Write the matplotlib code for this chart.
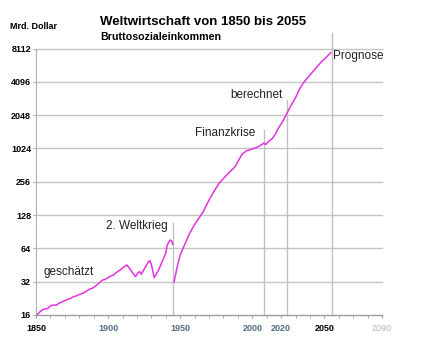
import numpy as np
import matplotlib
matplotlib.use('Agg')
from matplotlib import pyplot as plt
from matplotlib.ticker import NullLocator, MultipleLocator

plt.rcParams['font.family'] = ['Liberation Sans', 'DejaVu Sans']

# axis labels as printed in the original (uneven steps, equally spaced)
y_ticks = [16, 32, 64, 128, 256, 1024, 2048, 4096, 8112]
x_ticks = [1850, 1900, 1950, 2000, 2020, 2050, 2090]
x_tick_colors = ['black', '#4d6d8c', '#4d6d8c', '#4d6d8c', '#4d6d8c', 'black', '#b5b5b5']

# estimated part, up to the end of WW2
years_early = [1851, 1853, 1855, 1858, 1860, 1862, 1864, 1866, 1868, 1871, 1874, 1876,
               1878, 1881, 1883, 1885, 1887, 1889, 1891, 1893, 1896, 1898, 1901, 1904,
               1906, 1908, 1910, 1912, 1913, 1915, 1917, 1919, 1921, 1922, 1923, 1926,
               1928, 1929, 1930, 1932, 1935, 1938, 1940, 1941, 1943, 1944, 1945]
gdp_early = [16.2, 17.2, 18.0, 18.3, 19.3, 19.7, 19.6, 20.5, 21.0, 21.9, 22.6, 23.4,
             23.8, 24.8, 25.3, 26.3, 27.3, 27.9, 29.0, 30.5, 33.0, 33.6, 35.5, 37.0,
             39.0, 40.5, 42.5, 44.5, 45.3, 42.0, 38.5, 35.5, 38.9, 39.4, 37.3, 43.7,
             48.5, 49.5, 46.0, 34.8, 40.8, 50.2, 58.0, 68.6, 76.1, 75.0, 69.6]

# computed part and forecast
years_late = [1945.8, 1948, 1950, 1953, 1956, 1959, 1962, 1966, 1970, 1974, 1977, 1980,
              1984, 1988, 1991, 1993, 1996, 2000, 2003, 2006, 2008, 2009.5, 2011, 2014,
              2016, 2018, 2021, 2024, 2027, 2030, 2033, 2036, 2039, 2042, 2045, 2048,
              2051, 2054.5]
gdp_late = [32, 44, 55.7, 68.6, 84.4, 100, 115, 137, 175, 215, 248, 294,
            376, 478, 656, 812, 926, 1000, 1045, 1098, 1143, 1112, 1176, 1261,
            1375, 1552, 1783, 2120, 2521, 2941, 3566, 4096, 4540, 5040, 5580, 6180,
            6710, 7450]

marker_years = [1945, 2008, 2024, 2055]

y_log = np.log2(y_ticks)
y_pos = np.arange(len(y_ticks))


def forward(v):
    v = np.clip(np.asarray(v, dtype=float), 1e-6, None)
    return np.interp(np.log2(v), y_log, y_pos)


def inverse(p):
    return 2 ** np.interp(np.asarray(p, dtype=float), y_pos, y_log)


fig = plt.figure(figsize=(4.33, 3.51), dpi=100)
ax = fig.add_axes([36 / 433, 36 / 351, 346 / 433, 266.5 / 351])
ax.set_yscale('function', functions=(forward, inverse))
ax.set_ylim(16, 8112)
ax.set_xlim(1850, 2090)

ax.set_yticks(y_ticks)
ax.set_yticklabels([str(t) for t in y_ticks], fontsize=6.5, fontweight='bold')
ax.yaxis.set_minor_locator(NullLocator())
ax.tick_params(axis='y', length=2, color='#aaaaaa', pad=1.5)
ax.grid(axis='y', color='#c4c4c4', lw=1.0)
for gl in ax.get_ygridlines():
    gl.set_clip_on(False)

ax.set_xticks(x_ticks)
ax.set_xticklabels([str(t) for t in x_ticks], fontsize=6.5, fontweight='bold')
for lab, c in zip(ax.get_xticklabels(), x_tick_colors):
    lab.set_color(c)
ax.get_xticklabels()[-1].set_fontweight('normal')
ax.xaxis.set_minor_locator(MultipleLocator(10))
ax.tick_params(axis='x', which='both', length=2.2, color='#999999', pad=4.5)

for s in ['top', 'right']:
    ax.spines[s].set_visible(False)
ax.spines['left'].set_color('#b0b0b0')
ax.spines['bottom'].set_color('#999999')

tops = [0.345, 0.695, 0.808, 1.059]
for yr, top in zip(marker_years, tops):
    ax.axvline(yr, ymin=0, ymax=top, color='#c0c0c0', lw=1.0, clip_on=False)

ax.plot(years_early, gdp_early, color='#e233df', lw=1.1)
ax.plot(years_late, gdp_late, color='#e233df', lw=1.1)

tkw = dict(fontsize=8.5, va='center', ha='left', color='#222222')
ax.text(2056, 6990, 'Prognose', **tkw)
ax.text(1985, 3123, 'berechnet', **tkw)
ax.text(1960.3, 1416, 'Finanzkrise', **tkw)
ax.text(1898.6, 101.8, '2. Weltkrieg', **tkw)
ax.text(1855.1, 38.9, 'geschätzt', **tkw)

fig.text(100 / 433, 1 - 21.7 / 351, 'Weltwirtschaft von 1850 bis 2055',
         fontsize=9.5, fontweight='bold', va='center', ha='left')
fig.text(100.7 / 433, 1 - 36.7 / 351, 'Bruttosozialeinkommen',
         fontsize=7.7, fontweight='bold', va='center', ha='left')
fig.text(10 / 433, 1 - 26.7 / 351, 'Mrd. Dollar',
         fontsize=6.5, fontweight='bold', va='center', ha='left')

fig.savefig('out.png', dpi=100)
